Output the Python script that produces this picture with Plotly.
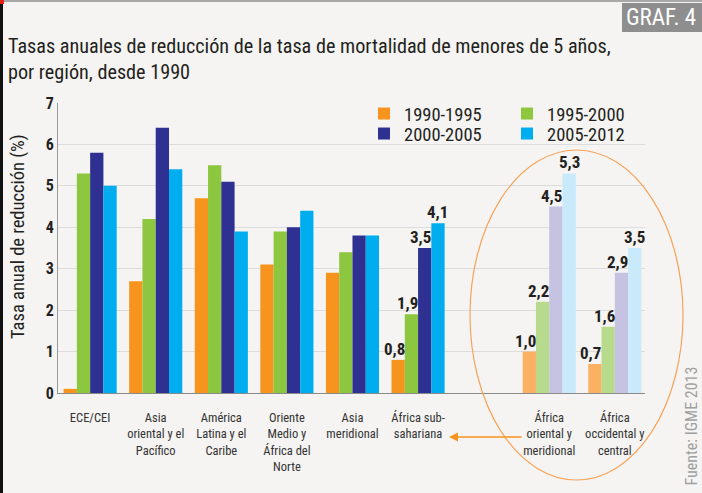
import plotly.graph_objects as go

# ---------------- data ----------------
regions = [
    "ECE/CEI",
    "Asia<br>oriental y el<br>Pacífico",
    "América<br>Latina y el<br>Caribe",
    "Oriente<br>Medio y<br>África del<br>Norte",
    "Asia<br>meridional",
    "África sub-<br>sahariana",
    "África<br>oriental y<br>meridional",
    "África<br>occidental y<br>central",
]
xpos = [0, 1, 2, 3, 4, 5, 7, 8]
periods = ["1990-1995", "1995-2000", "2000-2005", "2005-2012"]
v_1990_1995 = [0.1, 2.7, 4.7, 3.1, 2.9, 0.8, 1.0, 0.7]
v_1995_2000 = [5.3, 4.2, 5.5, 3.9, 3.4, 1.9, 2.2, 1.6]
v_2000_2005 = [5.8, 6.4, 5.1, 4.0, 3.8, 3.5, 4.5, 2.9]
v_2005_2012 = [5.0, 5.4, 3.9, 4.4, 3.8, 4.1, 5.3, 3.5]
labelled = [False, False, False, False, False, True, True, True]
highlight = [False, False, False, False, False, False, True, True]
yticks = [0, 1, 2, 3, 4, 5, 6, 7]

series = [v_1990_1995, v_1995_2000, v_2000_2005, v_2005_2012]
base_colors = ["#F7941D", "#8DC63F", "#2E3192", "#00AEEF"]
light_colors = ["#FBB062", "#B7DA8C", "#C6C2E1", "#C9EAFA"]

FONT = "Roboto Condensed, Liberation Sans Narrow, DejaVu Sans Condensed, Arial Narrow, sans-serif"
DARK = "#231F20"

W, H = 702, 493
L, R, T, B = 58, 57, 103, 100
PW = W - L - R
PH = H - T - B
BARGAP = 0.19
NSER = len(series)
BARW = (1 - BARGAP) / NSER


def X(px):
    return (px - L) / PW


def Y(py):
    return (H - B - py) / PH


fig = go.Figure()
for i, (name, vals) in enumerate(zip(periods, series)):
    colors = [light_colors[i] if h else base_colors[i] for h in highlight]
    fig.add_trace(go.Bar(
        x=xpos, y=vals, name=name,
        marker=dict(color=colors, line=dict(width=0)),
        legend="legend" if i < 2 else "legend2",
        hoverinfo="x+y+name",
    ))

fig.update_layout(
    width=W, height=H,
    margin=dict(l=L, r=R, t=T, b=B),
    paper_bgcolor="#F5F4F2", plot_bgcolor="#F5F4F2",
    barmode="group", bargap=BARGAP, bargroupgap=0,
    font=dict(family=FONT, color=DARK),
    legend=dict(orientation="h", x=X(364), y=Y(95), xanchor="left", yanchor="top",
                entrywidth=98, entrywidthmode="pixels", bgcolor="rgba(0,0,0,0)",
                font=dict(family=FONT, size=18.5, color=DARK), tracegroupgap=0,
                itemclick=False),
    legend2=dict(orientation="h", x=X(364), y=Y(115), xanchor="left", yanchor="top",
                 entrywidth=98, entrywidthmode="pixels", bgcolor="rgba(0,0,0,0)",
                 font=dict(family=FONT, size=18.5, color=DARK), tracegroupgap=0,
                 itemclick=False),
    xaxis=dict(range=[-0.49, 8.46], tickvals=xpos, ticktext=regions,
               showgrid=False, zeroline=False, showline=True, linecolor="#8A8A8A", linewidth=1,
               ticks="", ticklabelstandoff=13,
               tickfont=dict(family=FONT, size=12.5, color="#333333")),
    yaxis=dict(range=[0, 7], tickvals=yticks, showgrid=True, gridcolor="#DCDCDC", gridwidth=1,
               zeroline=False, showline=True, linecolor="#9A9A9A", linewidth=1, ticks="",
               tickfont=dict(family=FONT, size=16, color=DARK, weight="bold")),
    showlegend=True,
)

shapes = []
# left black border
shapes.append(dict(type="rect", xref="paper", yref="paper", x0=X(0), x1=X(3), y0=Y(H), y1=Y(0),
                   fillcolor="#111111", line=dict(width=0), layer="above"))
# top grey rule
shapes.append(dict(type="line", xref="paper", yref="paper", x0=X(0), x1=X(W), y0=Y(1), y1=Y(1),
                   line=dict(color="#A8A8A8", width=2)))
# tiny red mark
shapes.append(dict(type="rect", xref="paper", yref="paper", x0=X(0), x1=X(4), y0=Y(4), y1=Y(0),
                   fillcolor="#E2231A", line=dict(width=0), layer="above"))
# GRAF. 4 box
shapes.append(dict(type="rect", xref="paper", yref="paper", x0=X(622), x1=X(W + 5), y0=Y(32), y1=Y(3),
                   fillcolor="#8E8E8E", line=dict(width=0)))
# ellipse around highlighted groups
shapes.append(dict(type="circle", xref="paper", yref="paper", x0=X(470), x1=X(683), y0=Y(480), y1=Y(150),
                   line=dict(color="#F7A45A", width=1.2), layer="above"))
fig.update_layout(shapes=shapes)

ann = []
# value labels (drawn above all bars)
for i, vals in enumerate(series):
    for j, (v, lab) in enumerate(zip(vals, labelled)):
        if not lab:
            continue
        ann.append(dict(
            text=f"{v:.1f}".replace(".", ","), xref="x", yref="y",
            x=xpos[j] + (i - (NSER - 1) / 2) * BARW, y=v,
            xanchor="center", yanchor="bottom", xshift=(0 if i == NSER - 1 else -4), yshift=-1,
            showarrow=False, font=dict(family=FONT, size=17, color=DARK, weight="bold")))

ann.append(dict(text="Tasas anuales de reducción de la tasa de mortalidad de menores de 5 años,<br>por región, desde 1990",
                xref="paper", yref="paper", x=X(6), y=Y(32), xanchor="left", yanchor="top", align="left",
                showarrow=False, font=dict(family=FONT, size=20.2, color=DARK)))
ann.append(dict(text="GRAF. 4", xref="paper", yref="paper", x=X(624), y=Y(18), xanchor="left", yanchor="middle",
                showarrow=False, font=dict(family=FONT, size=23, color="#FFFFFF")))
ann.append(dict(text="Tasa anual de reducción (%)", xref="paper", yref="paper", x=X(18), y=Y(237),
                xanchor="center", yanchor="middle", textangle=-90, showarrow=False,
                font=dict(family=FONT, size=18.5, color=DARK)))
ann.append(dict(text="Fuente: IGME 2013", xref="paper", yref="paper", x=X(691), y=Y(488),
                xanchor="center", yanchor="bottom", textangle=-90, showarrow=False,
                font=dict(family=FONT, size=16, color="#A0A0A0")))
ann.append(dict(text="", xref="paper", yref="paper", x=X(449), y=Y(437), ax=74, ay=0,
                axref="pixel", ayref="pixel", showarrow=True, arrowhead=2, arrowsize=1.2,
                arrowwidth=1.5, arrowcolor="#F7941D"))
fig.update_layout(annotations=ann)

fig.write_html("out.html", config={"displayModeBar": False},
               post_script="document.body.style.margin='0';")
